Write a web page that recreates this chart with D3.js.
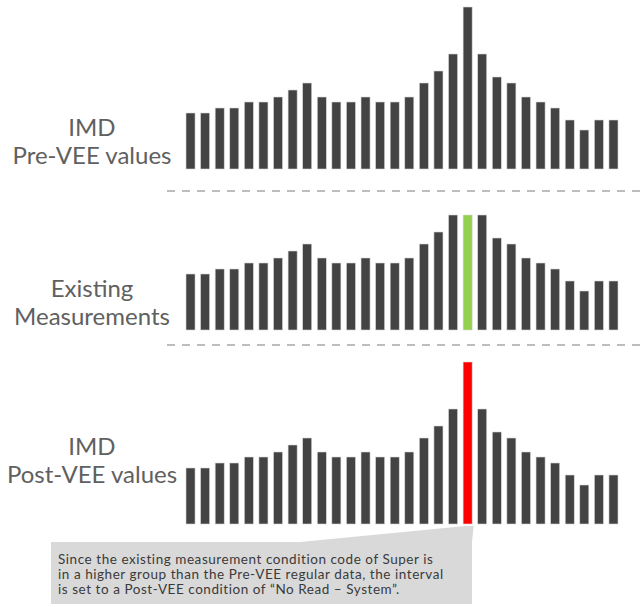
<!DOCTYPE html>
<html>
<head>
<meta charset="utf-8">
<script src="https://cdn.jsdelivr.net/npm/d3@7"></script>
<style>
  body { margin: 0; background: #fff; }
  text { font-family: Lato, "Open Sans", sans-serif; }
</style>
</head>
<body>
<svg width="644" height="607"></svg>
<script>
// interval values, one per bar (same 30 intervals in every panel)
var intervals = d3.range(30);

var preVee = [5.6, 5.6, 6.1, 6.1, 6.7, 6.7, 7.2, 7.9, 8.6, 7.2,
              6.7, 6.7, 7.2, 6.7, 6.7, 7.2, 8.6, 9.8, 11.5, 16.2,
              11.5, 9.2, 8.6, 7.2, 6.7, 6.1, 4.9, 3.9, 4.9, 4.9];

var existing = [5.6, 5.6, 6.1, 6.1, 6.7, 6.7, 7.2, 7.9, 8.6, 7.2,
                6.7, 6.7, 7.2, 6.7, 6.7, 7.2, 8.6, 9.8, 11.5, 11.5,
                11.5, 9.2, 8.6, 7.2, 6.7, 6.1, 4.9, 3.9, 4.9, 4.9];

var postVee = [5.6, 5.6, 6.1, 6.1, 6.7, 6.7, 7.2, 7.9, 8.6, 7.2,
               6.7, 6.7, 7.2, 6.7, 6.7, 7.2, 8.6, 9.8, 11.5, 16.2,
               11.5, 9.2, 8.6, 7.2, 6.7, 6.1, 4.9, 3.9, 4.9, 4.9];

var flagIndex = 19;

var panels = [
    {label: ['IMD', 'Pre-VEE values'], values: preVee, bottom: 169, labelY: 136, flag: null},
    {label: ['Existing', 'Measurements'], values: existing, bottom: 330, labelY: 297, flag: '#92d050'},
    {label: ['IMD', 'Post-VEE values'], values: postVee, bottom: 524, labelY: 455, flag: '#ff0000'}
];

var separators = [191, 345];

var noteLines = [
    'Since the existing measurement condition code of Super is',
    'in a higher group than the Pre-VEE regular data, the interval',
    'is set to a Post-VEE condition of \u201cNo Read \u2013 System\u201d.'
];

var svg = d3.select('svg');

var x = d3.scaleBand()
    .domain(intervals)
    .range([186, 618])
    .paddingInner(0.38)
    .paddingOuter(0);

// 10 px per unit, same for all panels
var barScale = d3.scaleLinear().domain([0, 16.2]).range([0, 162]);

panels.forEach(function(p) {
    var g = svg.append('g');

    g.selectAll('rect')
        .data(p.values)
        .enter()
        .append('rect')
        .attr('x', function(d, i) { return x(i); })
        .attr('y', function(d) { return p.bottom - barScale(d); })
        .attr('width', x.bandwidth())
        .attr('height', function(d) { return barScale(d); })
        .style('fill', function(d, i) { return (p.flag && i == flagIndex) ? p.flag : '#434343'; })
        .style('stroke', '#d8d8d8')
        .style('stroke-width', 0.6);

    g.selectAll('text')
        .data(p.label)
        .enter()
        .append('text')
        .attr('x', 92)
        .attr('y', function(d, i) { return p.labelY + i * 28; })
        .attr('text-anchor', 'middle')
        .style('font-size', '24px')
        .style('fill', '#606060')
        .text(function(d) { return d; });
});

// dashed separators between panels
svg.selectAll('line.sep')
    .data(separators)
    .enter()
    .append('line')
    .attr('class', 'sep')
    .attr('x1', 167)
    .attr('x2', 644)
    .attr('y1', function(d) { return d; })
    .attr('y2', function(d) { return d; })
    .style('stroke', '#bdbdbd')
    .style('stroke-width', 2)
    .style('stroke-dasharray', '8,7');

// callout pointing at the flagged post-VEE bar
var tipX = x(flagIndex) + x.bandwidth() / 2;
var boxTop = 542;
svg.append('path')
    .attr('d', 'M51,' + boxTop + 'L300,' + boxTop + 'L' + (tipX - 2) + ',526L' + (tipX + 6) + ',526L472,' + boxTop
        + 'L472,604L51,604Z')
    .style('fill', '#d9d9d9');

svg.selectAll('text.note')
    .data(noteLines)
    .enter()
    .append('text')
    .attr('class', 'note')
    .attr('x', 58)
    .attr('y', function(d, i) { return 564 + i * 15; })
    .style('font-size', '13.5px')
    .style('letter-spacing', '0.55px')
    .style('fill', '#3a3a3a')
    .text(function(d) { return d; });
</script>
</body>
</html>
